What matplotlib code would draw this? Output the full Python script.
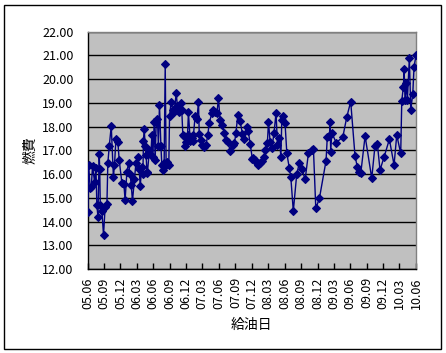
import matplotlib
matplotlib.use("Agg")
import matplotlib.pyplot as plt
import matplotlib.dates as mdates
from matplotlib.patches import Rectangle
import datetime as dt

plt.rcParams['font.family'] = ['Noto Sans CJK JP', 'DejaVu Sans']

start_date = dt.date(2005, 6, 1)
end_date = dt.date(2010, 6, 1)

days_since_start = [
    2, 6, 15, 21, 28, 39, 47, 52, 58, 65, 68, 71, 80, 89, 98, 108, 113, 121, 132, 144,
    150, 158, 169, 176, 191, 202, 209, 219, 228, 237, 243, 250, 261, 269, 280, 287, 293, 302, 308, 311,
    315, 321, 326, 330, 333, 344, 352, 358, 363, 371, 376, 382, 389, 394, 400, 408, 413, 419, 426, 432,
    437, 444, 452, 456, 465, 474, 482, 493, 500, 511, 519, 524, 530, 537, 543, 548, 556, 561, 571, 580,
    586, 589, 598, 608, 617, 621, 632, 639, 650, 658, 669, 676, 691, 700, 709, 719, 728, 737, 747, 761,
    769, 780, 793, 806, 817, 825, 836, 848, 861, 872, 886, 894, 904, 917, 922, 932, 941, 950, 960, 969,
    982, 987, 1000, 1006, 1015, 1025, 1037, 1048, 1056, 1067, 1075, 1080, 1089, 1098, 1108, 1122, 1130, 1144, 1163, 1178,
    1191, 1210, 1228, 1247, 1256, 1269, 1289, 1326, 1333, 1345, 1348, 1352, 1358, 1382, 1419, 1441, 1463, 1487, 1500, 1511,
    1519, 1543, 1580, 1598, 1611, 1626, 1648, 1678, 1704, 1719, 1741, 1747, 1756, 1760, 1765, 1771, 1778, 1789, 1797, 1808,
    1815, 1826,
]

fuel_economy = [
    14.41, 16.38, 15.40, 15.45, 16.34, 15.68, 16.25, 14.70, 14.20, 16.84, 16.20, 14.70, 14.45, 13.43, 14.60, 14.75, 16.45, 17.18, 18.02, 15.88,
    16.38, 17.46, 17.33, 16.60, 15.64, 15.60, 14.90, 16.10, 16.45, 16.00, 15.55, 14.86, 15.80, 16.45, 16.73, 16.20, 15.50, 16.30, 16.00, 17.40,
    17.88, 17.20, 16.80, 16.10, 16.05, 17.00, 16.80, 17.64, 16.70, 18.20, 16.60, 18.20, 18.30, 17.20, 18.90, 17.20, 16.40, 16.17, 16.45, 20.63,
    16.40, 16.50, 16.40, 18.43, 19.05, 18.70, 18.60, 19.40, 18.85, 18.60, 19.00, 18.70, 17.64, 17.60, 17.20, 17.35, 17.64, 18.60, 17.40, 17.50,
    17.40, 17.64, 18.43, 18.30, 19.05, 17.70, 17.43, 17.22, 17.15, 17.22, 17.64, 18.13, 18.55, 18.69, 18.62, 18.55, 19.18, 18.27, 18.06, 17.74,
    17.43, 17.36, 16.98, 17.22, 17.29, 17.74, 18.50, 18.24, 17.70, 17.46, 17.99, 17.80, 17.27, 16.62, 16.66, 16.60, 16.48, 16.38, 16.45, 16.55,
    16.70, 17.01, 17.32, 18.20, 17.36, 17.08, 17.74, 18.58, 17.22, 17.50, 16.70, 18.27, 18.44, 18.15, 16.87, 16.24, 15.88, 14.44, 15.99, 16.48,
    16.20, 15.78, 16.87, 17.01, 17.04, 14.55, 14.97, 16.56, 17.57, 17.60, 18.20, 16.94, 17.74, 17.32, 17.55, 18.39, 19.05, 16.76, 16.29, 16.10,
    16.03, 17.60, 15.82, 17.19, 17.28, 16.17, 16.70, 17.46, 16.38, 17.64, 16.87, 19.09, 19.68, 20.41, 19.10, 19.82, 19.10, 20.87, 18.70, 19.37,
    20.49, 21.01,
]

y_ticks = [12, 13, 14, 15, 16, 17, 18, 19, 20, 21, 22]
y_label = "燃費"
x_label = "給油日"

dates = [start_date + dt.timedelta(days=d) for d in days_since_start]

W, H = 446, 353
fig = plt.figure(figsize=(W / 100, H / 100), dpi=100)
fig.patch.set_facecolor("white")

# outer chart border
fig.patches.append(Rectangle((4 / W, 4 / H), (441 - 4) / W, (348 - 4) / H,
                             transform=fig.transFigure, fill=False,
                             edgecolor="black", linewidth=1.0))

left, right, top, bottom = 87.5, 416, 31.5, 269
ax = fig.add_axes([left / W, 1 - bottom / H, (right - left) / W, (bottom - top) / H])
ax.set_facecolor("#C0C0C0")

ax.plot(dates, fuel_economy, color="#000080", linewidth=1.0, marker="D",
        markersize=3.6, markerfacecolor="#000080", markeredgecolor="#000080",
        markeredgewidth=0.8, zorder=3)

ax.set_xlim(start_date, end_date)
ax.set_ylim(12, 22)
ax.set_yticks(y_ticks)
ax.yaxis.set_major_formatter(plt.FuncFormatter(lambda v, p: f"{v:.2f}"))
ax.grid(axis="y", color="black", linewidth=1.0, zorder=1)
ax.set_axisbelow(True)

ax.xaxis.set_major_locator(mdates.MonthLocator(bymonth=[3, 6, 9, 12]))
ax.xaxis.set_major_formatter(mdates.DateFormatter("%y.%m"))

ax.tick_params(axis="x", direction="in", length=4, width=1, labelsize=9, rotation=90, pad=6)
ax.tick_params(axis="y", length=0, labelsize=9, pad=10)

for s in ["left", "bottom"]:
    ax.spines[s].set_color("black")
    ax.spines[s].set_linewidth(1.0)
for s in ["right", "top"]:
    ax.spines[s].set_color("#808080")
    ax.spines[s].set_linewidth(1.0)

fig.text(30 / W, 1 - 150 / H, y_label, rotation=90, ha="center", va="center", fontsize=10)
fig.text(251 / W, 1 - 325 / H, x_label, ha="center", va="center", fontsize=10)

fig.savefig("out.png", dpi=100)
